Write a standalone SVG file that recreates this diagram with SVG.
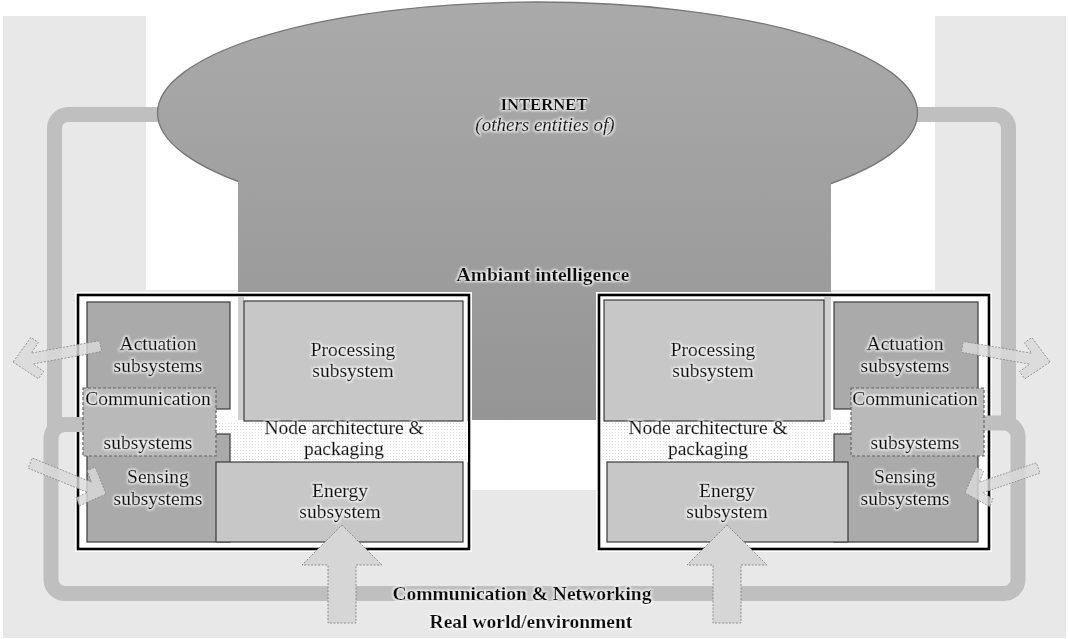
<svg xmlns="http://www.w3.org/2000/svg" width="1068" height="639" viewBox="0 0 1068 639">
  <defs>
    <linearGradient id="cloudGrad" gradientUnits="userSpaceOnUse" x1="0" y1="0" x2="0" y2="420">
      <stop offset="0" stop-color="#aaaaaa"/>
      <stop offset="1" stop-color="#959595"/>
    </linearGradient>
    <filter id="glow" x="-10%" y="-40%" width="120%" height="180%">
      <feMorphology in="SourceAlpha" operator="dilate" radius="1.2" result="d"/>
      <feGaussianBlur in="d" stdDeviation="1" result="b"/>
      <feFlood flood-color="#ffffff" flood-opacity="0.85"/>
      <feComposite in2="b" operator="in" result="g"/>
      <feMerge><feMergeNode in="g"/><feMergeNode in="SourceGraphic"/></feMerge>
    </filter>
    <pattern id="dots" width="3" height="3" patternUnits="userSpaceOnUse">
      <rect width="3" height="3" fill="#ffffff"/>
      <rect width="1" height="1" fill="#dcdcdc"/>
    </pattern>
    <path id="chevL" d="M0,0 L-22,-21 L-28.4,-14.6 L-19.5,-5.5 L-89,-5.5 L-89,5.5 L-19.5,5.5 L-28.4,14.6 L-22,21 Z"/>
  </defs>
  <style>
    .txt{font-family:"Liberation Serif","Times New Roman",serif;font-size:19.5px;fill:#111;stroke:#111;stroke-width:0.35;text-anchor:middle;filter:url(#glow)}
    .bold{font-weight:bold;stroke-width:0.2}
    .ital{font-style:italic}
    .frame{fill:#ffffff;stroke:#000;stroke-width:2.6}
    .frameHalo{fill:none;stroke:#fff;stroke-width:6}
    .dark{fill:#aaaaaa;stroke:#3a3a3a;stroke-width:1.2}
    .light{fill:#c7c7c7;stroke:#3a3a3a;stroke-width:1.2}
    .comm{fill:#b9b9b9;stroke:#666;stroke-width:1.2;stroke-dasharray:3 2}
    .pipe{fill:none;stroke:#bfbfbf;stroke-width:15;stroke-linejoin:round}
    .sideArrow{fill:#d9d9d9;fill-opacity:0.82;stroke:#8a8a8a;stroke-width:0.8;stroke-dasharray:2 1.5}
    .upArrow{fill:#d6d6d6;stroke:#7a7a7a;stroke-width:0.8;stroke-dasharray:2 1.5}
    .strip{fill:#cfcfcf}
  </style>

  <!-- background -->
  <rect width="1068" height="639" fill="#ffffff"/>
  <path d="M3,16 H146 V290 H470 V490 H598 V290 H935 V16 H1066 V638 H3 Z" fill="#e8e8e8"/>

  <!-- upper pipes (behind cloud) -->
  <g id="connectors-upper">
    <path class="pipe" d="M180,114.5 H68 A13.5,13.5 0 0 0 54.5,128 V430"/>
    <path class="pipe" d="M895,114.5 H995 A13.5,13.5 0 0 1 1008.5,128 V428"/>
  </g>

  <!-- Internet cloud -->
  <g id="node-internet">
    <ellipse cx="537.5" cy="113" rx="380" ry="111" fill="url(#cloudGrad)" stroke="#777" stroke-width="1.3"/>
    <rect x="238" y="178" width="593" height="242" fill="url(#cloudGrad)"/>
    <text class="txt bold" x="544" y="110" style="font-size:16.7px">INTERNET</text>
    <text class="txt ital" x="545" y="131" style="font-size:19px">(others entities of)</text>
  </g>

  <g id="node-ambient">
    <text class="txt bold" x="543" y="281">Ambiant intelligence</text>
  </g>

  <!-- left node -->
  <g id="node-left">
    <rect class="frameHalo" x="78" y="295" width="391" height="254"/>
    <rect class="frame" x="78" y="295" width="391" height="254"/>
    <rect class="strip" x="238" y="297" width="6" height="123"/>
    <rect x="216" y="421" width="252" height="41" fill="url(#dots)"/>
  </g>

  <!-- right node -->
  <g id="node-right">
    <rect class="frameHalo" x="599" y="295" width="390" height="254"/>
    <rect class="frame" x="599" y="295" width="390" height="254"/>
    <rect class="strip" x="824" y="297" width="7" height="123"/>
    <rect x="601" y="421" width="250" height="41" fill="url(#dots)"/>
  </g>

  <!-- lower network loop -->
  <g id="connectors">
    <path class="pipe" d="M90,424.5 H65 A14,14 0 0 0 51,438.5 V579.5 A14,14 0 0 0 65,593.5 H1004 A14,14 0 0 0 1018,579.5 V437 A14,14 0 0 0 1004,423 H978"/>
  </g>

  <!-- left node inner subsystems -->
  <g id="left-actuation">
    <rect class="dark" x="87" y="302" width="143" height="107"/>
    <text class="txt" x="158" y="350">Actuation</text>
    <text class="txt" x="158" y="372">subsystems</text>
  </g>
  <g id="left-sensing">
    <rect class="dark" x="87" y="434" width="143" height="108"/>
    <text class="txt" x="158" y="483">Sensing</text>
    <text class="txt" x="158" y="505">subsystems</text>
  </g>
  <g id="left-processing">
    <rect class="light" x="244" y="301" width="219" height="120"/>
    <text class="txt" x="353" y="356">Processing</text>
    <text class="txt" x="353" y="377">subsystem</text>
  </g>
  <g id="left-energy">
    <rect class="light" x="216" y="462" width="247" height="80"/>
    <text class="txt" x="340" y="497">Energy</text>
    <text class="txt" x="340" y="518">subsystem</text>
  </g>
  <g id="left-communication">
    <rect class="comm" x="83" y="388" width="133" height="68"/>
    <text class="txt" x="148" y="405">Communication</text>
    <text class="txt" x="148" y="449">subsystems</text>
  </g>
  <g id="left-architecture">
    <text class="txt" x="344" y="434">Node architecture &amp;</text>
    <text class="txt" x="344" y="455">packaging</text>
  </g>

  <!-- right node inner subsystems -->
  <g id="right-processing">
    <rect class="light" x="604" y="300" width="220" height="121"/>
    <text class="txt" x="713" y="356">Processing</text>
    <text class="txt" x="713" y="377">subsystem</text>
  </g>
  <g id="right-actuation">
    <rect class="dark" x="834" y="302" width="144" height="107"/>
    <text class="txt" x="905" y="350">Actuation</text>
    <text class="txt" x="905" y="372">subsystems</text>
  </g>
  <g id="right-sensing">
    <rect class="dark" x="834" y="434" width="144" height="108"/>
    <text class="txt" x="905" y="483">Sensing</text>
    <text class="txt" x="905" y="505">subsystems</text>
  </g>
  <g id="right-energy">
    <rect class="light" x="607" y="462" width="241" height="80"/>
    <text class="txt" x="727" y="497">Energy</text>
    <text class="txt" x="727" y="518">subsystem</text>
  </g>
  <g id="right-communication">
    <rect class="comm" x="851" y="388" width="133" height="68"/>
    <text class="txt" x="915" y="405">Communication</text>
    <text class="txt" x="915" y="449">subsystems</text>
  </g>
  <g id="right-architecture">
    <text class="txt" x="708" y="434">Node architecture &amp;</text>
    <text class="txt" x="708" y="455">packaging</text>
  </g>

  <!-- arrows -->
  <g id="arrows">
    <use href="#chevL" class="sideArrow" transform="translate(13,362) rotate(169.7)"/>
    <use href="#chevL" class="sideArrow" transform="translate(106,494) rotate(22.2) scale(0.92,1)"/>
    <use href="#chevL" class="sideArrow" transform="translate(1050,362) rotate(9.8)"/>
    <use href="#chevL" class="sideArrow" transform="translate(965,493) rotate(161.1) scale(0.87,1)"/>
    <polygon class="upArrow" points="342,525 382,565 356,565 356,623 328,623 328,565 302,565"/>
    <polygon class="upArrow" points="727,525 767,565 741,565 741,623 713,623 713,565 687,565"/>
  </g>

  <!-- bottom labels -->
  <g id="node-network">
    <text class="txt bold" x="522" y="600">Communication &amp; Networking</text>
  </g>
  <g id="node-world">
    <text class="txt bold" x="531" y="628">Real world/environment</text>
  </g>
</svg>
